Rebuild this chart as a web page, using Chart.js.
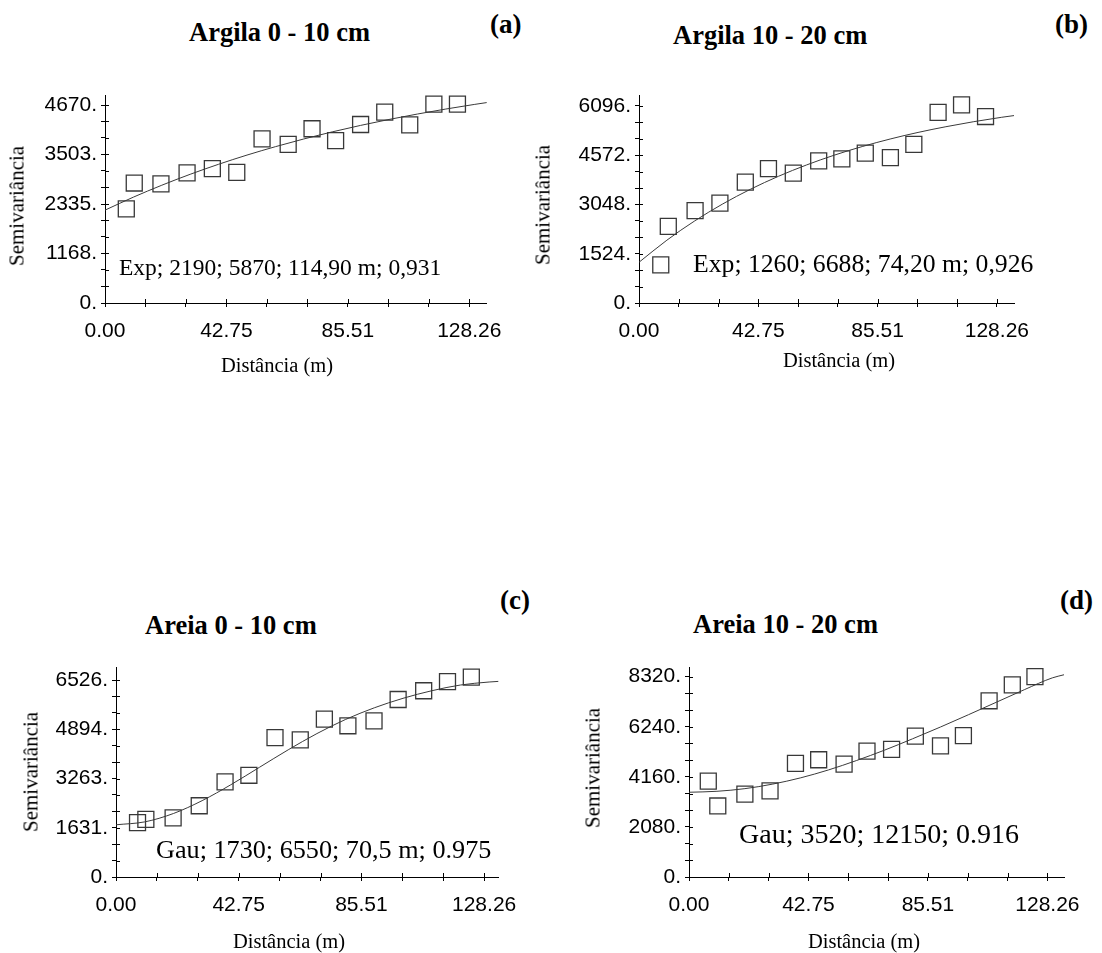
<!DOCTYPE html>
<html lang="pt">
<head>
<meta charset="utf-8">
<title>Semivariogramas</title>
<script src="https://cdn.jsdelivr.net/npm/chart.js@4.4.1/dist/chart.umd.min.js"></script>
<style>
  body {
    margin: 0;
    width: 1102px;
    height: 953px;
    position: relative;
    overflow: hidden;
    background: #fff;
    color: #000;
    font-family: "Liberation Serif", "Times New Roman", serif;
  }
  canvas { position: absolute; }
  .txt { position: absolute; white-space: nowrap; line-height: 1; }
  .title { font-weight: bold; font-size: 26.5px; }
  .tag { font-weight: bold; font-size: 27px; }
  .xlab { font-size: 20.5px; transform: translateX(-50%); }
  .ylab { font-size: 21px; transform: translate(-50%, -50%) rotate(-90deg); }
</style>
</head>
<body>
<canvas id="chartA" width="551" height="300" style="left:0;top:60px"></canvas>
<canvas id="chartB" width="551" height="300" style="left:551px;top:60px"></canvas>
<canvas id="chartC" width="551" height="300" style="left:0;top:640px"></canvas>
<canvas id="chartD" width="551" height="300" style="left:551px;top:640px"></canvas>

<div class="txt title" style="left:189px;top:18.8px">Argila 0 - 10 cm</div>
<div class="txt tag" style="left:490px;top:11px">(a)</div>
<div class="txt title" style="left:673px;top:22px">Argila 10 - 20 cm</div>
<div class="txt tag" style="left:1055px;top:11px">(b)</div>
<div class="txt title" style="left:145px;top:611.8px">Areia 0 - 10 cm</div>
<div class="txt tag" style="left:500px;top:587.4px">(c)</div>
<div class="txt title" style="left:693px;top:610.8px">Areia 10 - 20 cm</div>
<div class="txt tag" style="left:1060px;top:587.4px">(d)</div>

<div class="txt xlab" style="left:277px;top:354.5px">Distância (m)</div>
<div class="txt xlab" style="left:839px;top:349.5px">Distância (m)</div>
<div class="txt xlab" style="left:289px;top:930.8px">Distância (m)</div>
<div class="txt xlab" style="left:864px;top:930.8px">Distância (m)</div>

<div class="txt ylab" style="left:17px;top:206px">Semivariância</div>
<div class="txt ylab" style="left:543px;top:205px">Semivariância</div>
<div class="txt ylab" style="left:31px;top:772px">Semivariância</div>
<div class="txt ylab" style="left:593px;top:768px">Semivariância</div>

<div class="txt" style="left:119px;top:256.3px;font-size:23.5px">Exp; 2190; 5870; 114,90 m; 0,931</div>
<div class="txt" style="left:693px;top:251.2px;font-size:25.7px">Exp; 1260; 6688; 74,20 m; 0,926</div>
<div class="txt" style="left:156px;top:837.4px;font-size:26.2px">Gau; 1730; 6550; 70,5 m; 0.975</div>
<div class="txt" style="left:739px;top:819.6px;font-size:28px">Gau; 3520; 12150; 0.916</div>

<script>
// experimental semivariance (lag in m)
const lagA = [7.5, 10.3, 19.7, 28.9, 37.8, 46.4, 55.3, 64.5, 72.9, 81.2, 90.0, 98.5, 107.3, 115.8, 124.1];
const semA = [2220, 2830, 2810, 3070, 3170, 3080, 3870, 3740, 4110, 3830, 4210, 4500, 4200, 4690, 4690];

const lagB = [7.8, 10.5, 20.1, 29.0, 38.1, 46.4, 55.3, 64.4, 72.7, 81.1, 90.1, 98.5, 107.2, 115.6, 124.2];
const semB = [1180, 2370, 2860, 3090, 3740, 4160, 4020, 4400, 4460, 4640, 4500, 4910, 5900, 6130, 5770];

const lagC = [7.5, 10.4, 19.9, 29.0, 38.0, 46.3, 55.4, 64.2, 72.6, 80.8, 89.9, 98.3, 107.2, 115.5, 123.8];
const semC = [1800, 1910, 1960, 2360, 3150, 3370, 4620, 4540, 5230, 5010, 5170, 5880, 6170, 6470, 6620];

const lagD = [6.9, 10.3, 20.0, 29.0, 38.1, 46.4, 55.5, 63.7, 72.5, 81.0, 90.0, 98.2, 107.4, 115.7, 123.8];
const semD = [3980, 2950, 3440, 3580, 4720, 4870, 4690, 5230, 5300, 5850, 5450, 5870, 7320, 7980, 8320];

// fitted model curves
const modelLagA = [0, 10, 20, 30, 40, 50, 60, 70, 80, 90, 100, 110, 120, 130, 134.4];
const modelA = [2190, 2497, 2778, 3036, 3272, 3489, 3687, 3869, 4036, 4189, 4329, 4457, 4575, 4683, 4727];
const modelLagB = [0, 10, 20, 30, 40, 50, 60, 70, 80, 90, 100, 110, 120, 130, 134.4];
const modelB = [1260, 1944, 2542, 3065, 3522, 3921, 4270, 4575, 4841, 5074, 5278, 5455, 5611, 5747, 5799];
const modelLagC = [0, 10, 20, 30, 40, 50, 60, 70, 80, 90, 100, 110, 120, 130, 133.2];
const modelC = [1730, 1826, 2103, 2529, 3056, 3635, 4214, 4751, 5220, 5605, 5920, 6170, 6360, 6460, 6480];
const modelLagD = [0, 10, 20, 30, 40, 50, 60, 70, 80, 90, 100, 110, 120, 130, 134.2];
const modelD = [3520, 3560, 3670, 3860, 4120, 4450, 4840, 5270, 5740, 6230, 6740, 7260, 7780, 8270, 8400];

// axis ticks
const xTicks = [0, 42.75, 85.51, 128.26];
const yTicksA = [0, 1168, 2335, 3503, 4670];
const yTicksB = [0, 1524, 3048, 4572, 6096];
const yTicksC = [0, 1631, 3263, 4894, 6526];
const yTicksD = [0, 2080, 4160, 6240, 8320];

const TICK = 4;

// two minor ticks between every pair of labelled ticks
const withMinor = (majors) => {
  const out = [];
  majors.forEach((m, i) => {
    out.push(m);
    if (i < majors.length - 1) {
      const step = (majors[i + 1] - m) / 3;
      out.push(m + step, m + 2 * step);
    }
  });
  return out;
};

const isMajor = (majors, v) => majors.some((m) => Math.abs(m - v) < 1e-6);

// ticks that also reach inside the plot, like the outside ones
const crossTicks = {
  id: "crossTicks",
  afterDraw: (chart) => {
    const { ctx, chartArea, scales } = chart;
    ctx.save();
    ctx.strokeStyle = "#000";
    ctx.lineWidth = 1;
    ctx.beginPath();
    scales.x.ticks.forEach((t) => {
      const px = Math.round(scales.x.getPixelForValue(t.value)) + 0.5;
      ctx.moveTo(px, chartArea.bottom);
      ctx.lineTo(px, chartArea.bottom - TICK);
    });
    scales.y.ticks.forEach((t) => {
      const py = Math.round(scales.y.getPixelForValue(t.value)) + 0.5;
      ctx.moveTo(chartArea.left, py);
      ctx.lineTo(chartArea.left + TICK, py);
    });
    ctx.stroke();
    ctx.restore();
  },
};

const tickFont = { family: "'Liberation Sans', Arial, sans-serif", size: 21 };

const makeChart = (id, pos, area, lags, sems, modelLags, model, yTicks, xMax, yMax) => {
  const canvas = document.getElementById(id);
  const w = canvas.width;
  const h = canvas.height;
  const xAll = withMinor(xTicks);
  const yAll = withMinor(yTicks);

  return new Chart(canvas, {
    type: "scatter",
    data: {
      datasets: [
        {
          data: lags.map((x, i) => ({ x, y: sems[i] })),
          pointStyle: "rect",
          pointRadius: 11.3,
          pointBorderWidth: 1.3,
          pointBorderColor: "#383838",
          pointBackgroundColor: "rgba(0,0,0,0)",
          showLine: false,
          clip: false,
        },
        {
          data: modelLags.map((x, i) => ({ x, y: model[i] })),
          showLine: true,
          borderColor: "#3a3a3a",
          borderWidth: 1,
          pointRadius: 0,
          cubicInterpolationMode: "monotone",
          clip: false,
        },
      ],
    },
    options: {
      responsive: false,
      animation: false,
      events: [],
      layout: {
        padding: {
          left: 0,
          top: area.top - pos.top,
          right: pos.left + w - area.right,
          bottom: 0,
        },
      },
      plugins: {
        legend: { display: false },
        tooltip: { enabled: false },
      },
      scales: {
        x: {
          type: "linear",
          min: 0,
          max: xMax,
          afterBuildTicks: (scale) => {
            scale.ticks = xAll.map((value) => ({ value }));
          },
          afterFit: (scale) => {
            scale.height = pos.top + h - area.bottom;
          },
          grid: { drawOnChartArea: false, drawTicks: true, tickLength: TICK, color: "#000", lineWidth: 1 },
          border: { display: true, color: "#000", width: 1 },
          ticks: {
            autoSkip: false,
            maxRotation: 0,
            minRotation: 0,
            padding: 12,
            color: "#000",
            font: tickFont,
            callback: (v) => (isMajor(xTicks, v) ? v.toFixed(2) : ""),
          },
        },
        y: {
          type: "linear",
          min: 0,
          max: yMax,
          afterBuildTicks: (scale) => {
            scale.ticks = yAll.map((value) => ({ value }));
          },
          afterFit: (scale) => {
            scale.width = area.left - pos.left;
          },
          grid: { drawOnChartArea: false, drawTicks: true, tickLength: TICK, color: "#000", lineWidth: 1 },
          border: { display: true, color: "#000", width: 1 },
          ticks: {
            autoSkip: false,
            padding: 4,
            color: "#000",
            font: tickFont,
            callback: (v) => (isMajor(yTicks, v) ? v + "." : ""),
          },
        },
      },
    },
    plugins: [crossTicks],
  });
};

makeChart("chartA", { left: 0, top: 60 }, { left: 105, top: 95, right: 486.7, bottom: 303 },
  lagA, semA, modelLagA, modelA, yTicksA, 134.4, 4906);
makeChart("chartB", { left: 551, top: 60 }, { left: 639, top: 95, right: 1014, bottom: 303 },
  lagB, semB, modelLagB, modelB, yTicksB, 134.4, 6436);
makeChart("chartC", { left: 0, top: 640 }, { left: 116, top: 667.3, right: 498.3, bottom: 877 },
  lagC, semC, modelLagC, modelC, yTicksC, 133.2, 6947);
makeChart("chartD", { left: 551, top: 640 }, { left: 689, top: 667.3, right: 1064, bottom: 877 },
  lagD, semD, modelLagD, modelD, yTicksD, 134.2, 8710);
</script>
</body>
</html>
